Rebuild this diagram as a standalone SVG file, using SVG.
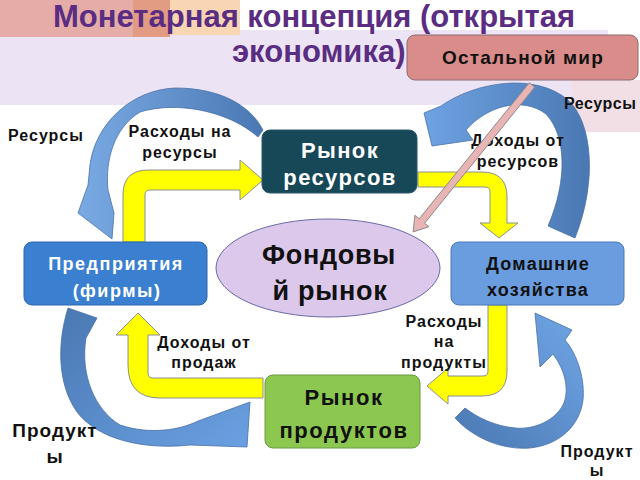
<svg xmlns="http://www.w3.org/2000/svg" width="640" height="480" viewBox="0 0 640 480">
<defs>
<linearGradient id="gA" x1="0" y1="0" x2="1" y2="0"><stop offset="0" stop-color="#7aaae4"/><stop offset="1" stop-color="#4a78b2"/></linearGradient>
<linearGradient id="gB" x1="0" y1="0" x2="1" y2="0"><stop offset="0" stop-color="#6ea2e2"/><stop offset="1" stop-color="#4a78b2"/></linearGradient>
<linearGradient id="gC" x1="0" y1="0" x2="1" y2="1"><stop offset="0" stop-color="#4a78b2"/><stop offset="1" stop-color="#6aa0e2"/></linearGradient>
<linearGradient id="gD" x1="0" y1="1" x2="1" y2="0"><stop offset="0" stop-color="#4a78b2"/><stop offset="1" stop-color="#70a6e6"/></linearGradient>
</defs>
<style>
.t{font-family:"Liberation Sans",Arial,sans-serif;font-weight:bold;text-anchor:middle}
.lbl{font-size:16px;fill:#111;letter-spacing:1px}
.yel{fill:#ffff00;stroke:#8a9090;stroke-width:1}
.blue{stroke:#4a70a8;stroke-width:0.8}
.nodeT{font-size:22px;fill:#fff;letter-spacing:1.4px}
.title{font-size:31px;fill:#5a2d82;text-anchor:start}
</style>
<rect width="640" height="480" fill="#fff"/>
<rect x="0" y="30" width="608" height="75" fill="#ece4f4"/>
<rect x="0" y="0" width="133" height="37" fill="#e6aca8"/>
<rect x="133" y="0" width="37" height="37" fill="#e29c84"/>
<rect x="170" y="0" width="70" height="35" fill="#f8d6b4"/>
<rect x="572" y="80" width="68" height="52" fill="#f2dfe6"/>
<text class="t title" x="53" y="26.5">Монетарная концепция (открытая</text>
<text class="t title" x="232" y="61.5">экономика)</text>
<g id="connectors">
<path class="blue" fill="url(#gA)" d="M263,130 C250,105 220,88 175,88 C130,90 95,125 90,165 L88,185 L78,213 L112,239 L114,213 L108,190 C105,160 114,128 140,112 C175,101 228,110 258,137 Z"/>
<path class="blue" fill="url(#gB)" d="M424,113 L441,106 C475,82 535,72 568,100 C592,122 598,180 575,238 L548,226 C568,180 566,135 546,114 C522,96 487,106 466,130 L473,140 L432,146 Z"/>
<path class="blue" fill="url(#gC)" d="M68,308 C58,340 56,382 77,412 C98,440 145,450 190,445 L247,447 L250,402 L198,421 C180,430 150,435 120,425 C95,410 80,375 86,338 L97,318 Z"/>
<path class="blue" fill="url(#gD)" d="M455,418 C475,440 505,450 530,448 C560,445 580,425 583,400 C585,380 578,355 565,340 L572,330 L535,313 L540,367 L553,354 C565,370 570,390 563,405 C555,420 535,430 515,428 C495,426 478,418 465,408 Z"/>
<path class="yel" d="M123,242 L123,195 Q123,170 148,170 L240,170 L240,160 L263,180 L240,200 L240,190 L150,190 Q145,190 145,195 L145,242 Z"/>
<path class="yel" d="M418,172 L482,172 Q507,172 507,197 L507,223 L518,223 L499,238 L480,223 L490,223 L490,192 Q490,187 485,187 L418,187 Z"/>
<path class="yel" d="M488,305 L488,371 Q488,376 483,376 L448,376 L448,368 L427,386 L448,404 L448,396 L482,396 Q507,396 507,371 L507,305 Z"/>
<path class="yel" d="M263,378 L153,378 Q148,378 148,373 L148,335 L160,335 L138,313 L116,335 L128,335 L128,365 Q128,398 160,398 L263,398 Z"/>
</g>
<g id="world">
<rect x="407" y="35" width="231" height="45" rx="8" fill="#d98c8a" stroke="#8c6c70" stroke-width="1"/>
<text class="t" x="523" y="64" font-size="19" fill="#111" style="letter-spacing:1.2px">Остальной мир</text>
</g>
<g id="resource-market">
<rect x="262" y="130" width="155" height="63" rx="8" fill="#174858" stroke="#2a5868" stroke-width="1"/>
<text class="t nodeT" x="340" y="158">Рынок</text>
<text class="t nodeT" x="340" y="185">ресурсов</text>
</g>
<g id="firms">
<rect x="24" y="242" width="183" height="63" rx="8" fill="#3a7fd0" stroke="#2e68b0" stroke-width="1"/>
<text class="t" x="116" y="270" font-size="18" fill="#fff" style="letter-spacing:1.5px">Предприятия</text>
<text class="t" x="117" y="297" font-size="18" fill="#fff" style="letter-spacing:1.5px">(фирмы)</text>
</g>
<g id="households">
<rect x="451" y="242" width="173" height="63" rx="8" fill="#6a9de0" stroke="#4a7ab8" stroke-width="1"/>
<text class="t" x="538" y="270" font-size="18" fill="#111" style="letter-spacing:1.3px">Домашние</text>
<text class="t" x="538" y="296" font-size="18" fill="#111" style="letter-spacing:1.3px">хозяйства</text>
</g>
<g id="stock-market">
<ellipse cx="328" cy="268" rx="112" ry="49" fill="#dcc8ea" stroke="#6a6aa8" stroke-width="1"/>
<text class="t" x="329" y="264" font-size="27" fill="#111" style="letter-spacing:0.7px">Фондовы</text>
<text class="t" x="330" y="300" font-size="27" fill="#111" style="letter-spacing:0.7px">й рынок</text>
</g>
<g id="product-market">
<rect x="265" y="375" width="155" height="73" rx="8" fill="#8cc850" stroke="#6a9a40" stroke-width="1"/>
<text class="t" x="344" y="405" font-size="22" fill="#111" style="letter-spacing:1.6px">Рынок</text>
<text class="t" x="344" y="438" font-size="22" fill="#111" style="letter-spacing:1.6px">продуктов</text>
</g>
<g id="labels">
<text class="t lbl" x="46" y="141">Ресурсы</text>
<text class="t lbl" x="180" y="137">Расходы на</text>
<text class="t lbl" x="180" y="158">ресурсы</text>
<text class="t lbl" x="518" y="146">Доходы от</text>
<text class="t lbl" x="518" y="167">ресурсов</text>
<text class="t lbl" x="564" y="109" style="text-anchor:start;letter-spacing:0.5px">Ресурсы</text>
<text class="t lbl" x="204" y="348">Доходы от</text>
<text class="t lbl" x="204" y="368">продаж</text>
<text class="t lbl" x="444" y="327">Расходы</text>
<text class="t lbl" x="444" y="347">на</text>
<text class="t lbl" x="444" y="368">продукты</text>
<text class="t lbl" x="55" y="437" style="font-size:19px">Продукт</text>
<text class="t lbl" x="55" y="463" style="font-size:19px">ы</text>
<text class="t lbl" x="597" y="457">Продукт</text>
<text class="t lbl" x="597" y="476">ы</text>
</g>
<g id="world-link">
<polygon points="534.7,87.2 424.6,223.2 428.9,226.7 413.1,231.9 414.9,215.3 419.2,218.8 529.3,82.8" fill="#e8b4b4" stroke="#8a8a8a" stroke-width="1"/>
</g>
</svg>
